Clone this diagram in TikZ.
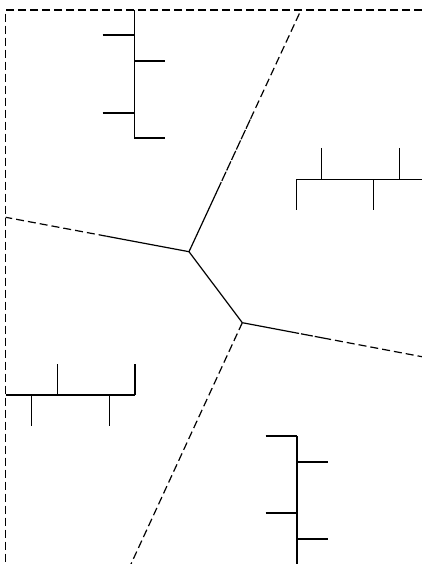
\documentclass[tikz,border=0pt]{standalone}
\usetikzlibrary{calc}

\tikzset{
  edge/.style={line width=1.2pt,dash pattern=on 8pt off 4pt},
  wall/.style={line width=1.2pt},
  tick/.style={line width=1.2pt}
}

\begin{document}
\begin{tikzpicture}[x=1pt,y=-1pt]
\useasboundingbox (0,0) rectangle (422,564);
% frame
\coordinate (tl) at (5.7,10);
\draw[edge] (422,10) -- (tl) -- (5.7,564);
% vertices and ray ends
\coordinate (v1) at (189,251.7);
\coordinate (v2) at (242.3,322.7);
\coordinate (etop) at (301,10);
\coordinate (eleft) at (5.7,217.3);
\coordinate (eright) at (422,356.7);
\coordinate (ebot) at (131,564);
\draw[wall] (v1) -- (v2);
\draw[wall] (v1) -- ($(v1)!0.25!(etop)$);
\draw[edge,dash pattern=on 10pt off 1.5pt] ($(v1)!0.25!(etop)$) -- ($(v1)!0.55!(etop)$);
\draw[edge] ($(v1)!0.55!(etop)$) -- (etop);
\draw[wall] (v1) -- ($(v1)!0.45!(eleft)$);
\draw[edge] ($(v1)!0.45!(eleft)$) -- (eleft);
\draw[wall] (v2) -- ($(v2)!0.25!(eright)$);
\draw[edge,dash pattern=on 12pt off 2pt] ($(v2)!0.25!(eright)$) -- ($(v2)!0.45!(eright)$);
\draw[edge] ($(v2)!0.45!(eright)$) -- (eright);
\draw[edge] (v2) -- (ebot);
% top left comb
\draw[tick] (134.3,10) -- (134.3,138);
\draw[tick] (102.7,35) -- (134.3,35);
\draw[tick] (134.3,61) -- (165.3,61);
\draw[tick] (102.7,113) -- (134.3,113);
\draw[tick] (134.3,138) -- (165.3,138);
% top right comb
\draw[tick] (296.3,179.3) -- (422,179.3);
\foreach \x in {321.7,399.7} \draw[tick] (\x,148) -- (\x,179.3);
\foreach \x in {296.3,373.7} \draw[tick] (\x,179.3) -- (\x,210);
% bottom left comb
\draw[tick] (5.7,395) -- (135,395);
\foreach \x in {57.7,135} \draw[tick] (\x,364) -- (\x,395);
\foreach \x in {31.7,109.3} \draw[tick] (\x,395) -- (\x,426);
% bottom right comb
\draw[tick] (297,436) -- (297,564);
\draw[tick] (265.7,436) -- (297,436);
\draw[tick] (297,462) -- (328,462);
\draw[tick] (265.7,513) -- (297,513);
\draw[tick] (297,539) -- (328,539);
\end{tikzpicture}
\end{document}
